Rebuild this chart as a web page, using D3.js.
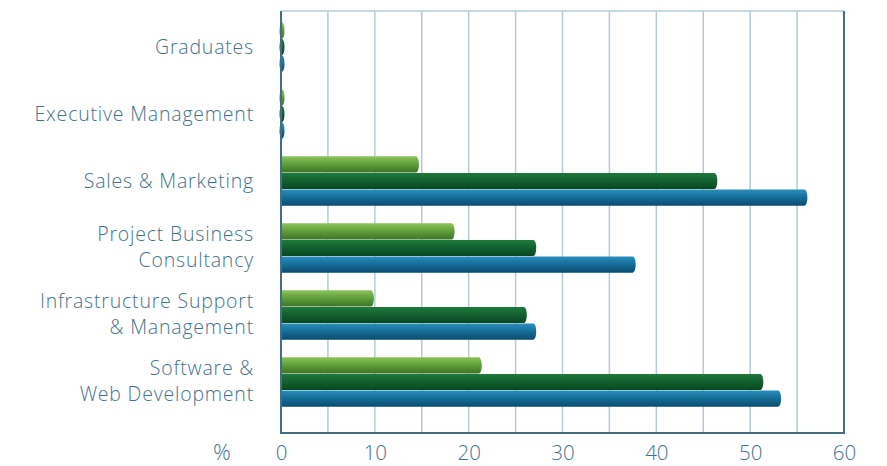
<!DOCTYPE html>
<html>
<head>
<meta charset="utf-8">
<script src="https://cdn.jsdelivr.net/npm/d3@7"></script>
<style>
  body { margin: 0; background: #fff; }
  svg text { font-family: "Open Sans", Lato, sans-serif; fill: #3f7290; }
</style>
</head>
<body>
<svg id="chart" width="887" height="466"></svg>
<script>
const categories = [
    ['Graduates'],
    ['Executive Management'],
    ['Sales & Marketing'],
    ['Project Business', 'Consultancy'],
    ['Infrastructure Support', '& Management'],
    ['Software &', 'Web Development']
];
const seriesNames = ['lightGreen', 'darkGreen', 'blue'];
const lightGreen = [0, 0, 14.7, 18.5, 9.9, 21.4];
const darkGreen = [0, 0, 46.5, 27.2, 26.2, 51.4];
const blue = [0, 0, 56.1, 37.8, 27.2, 53.3];
const xTicks = [0, 10, 20, 30, 40, 50, 60];
const gridTicks = [5, 10, 15, 20, 25, 30, 35, 40, 45, 50, 55];

const seriesValues = [lightGreen, darkGreen, blue];
const colors = {
    lightGreen: ['#8cc459', '#62a03c', '#3c7428'],
    darkGreen: ['#1f7a3c', '#136230', '#0a4620'],
    blue: ['#2b8ebb', '#16709c', '#0b4c6e']
};

const svg = d3.select('#chart');
const plotLeft = 281, plotRight = 844, plotTop = 11, plotBottom = 433;

const x = d3.scaleLinear().domain([0, 60]).range([plotLeft, plotRight]);
const y = d3.scaleBand()
    .domain(categories.map((c, i) => i))
    .range([13.5, 415.5]);
const sub = d3.scaleBand().domain(seriesNames).range([-25, 25]).padding(0.02);

// gradients for the cylinder look
const defs = svg.append('defs');
seriesNames.forEach(name => {
    const grad = defs.append('linearGradient')
        .attr('id', 'g-' + name)
        .attr('x1', 0).attr('y1', 0).attr('x2', 0).attr('y2', 1);
    grad.append('stop').attr('offset', '0%').attr('stop-color', colors[name][0]);
    grad.append('stop').attr('offset', '45%').attr('stop-color', colors[name][1]);
    grad.append('stop').attr('offset', '100%').attr('stop-color', colors[name][2]);
});

// grid
svg.append('g').selectAll('line')
    .data(gridTicks)
    .join('line')
    .attr('x1', d => x(d)).attr('x2', d => x(d))
    .attr('y1', plotTop).attr('y2', plotBottom)
    .attr('stroke', '#b3cbd8')
    .attr('stroke-width', 1.5);

svg.append('line')
    .attr('x1', plotLeft).attr('x2', plotRight).attr('y1', plotTop).attr('y2', plotTop)
    .attr('stroke', '#b3cbd8').attr('stroke-width', 1.5);

// bars
const groups = svg.append('g').selectAll('g')
    .data(categories.map((c, i) => i))
    .join('g')
    .attr('transform', i => `translate(0,${y(i) + y.bandwidth() / 2})`);

groups.selectAll('path')
    .data(i => seriesNames.map((s, k) => ({ series: s, value: seriesValues[k][i] })))
    .join('path')
    .attr('fill', d => `url(#g-${d.series})`)
    .attr('d', d => {
        const y0 = sub(d.series), h = sub.bandwidth();
        const x0 = x(0), x1 = x(d.value);
        const r = 3;
        if (d.value === 0) {
            return `M${x0 - 1.5},${y0 + h / 2} a2.5,${h / 2} 0 1,0 5,0 a2.5,${h / 2} 0 1,0 -5,0 Z`;
        }
        return `M${x0},${y0} L${x1 - r},${y0} A${r},${h / 2} 0 0,1 ${x1 - r},${y0 + h} L${x0},${y0 + h} Z`;
    });

// frame
svg.append('path')
    .attr('d', `M${plotLeft},${plotTop} V${plotBottom} H${plotRight} V${plotTop}`)
    .attr('fill', 'none')
    .attr('stroke', '#426f86')
    .attr('stroke-width', 2);

// x axis labels
const xAxis = svg.append('g')
    .attr('transform', `translate(0,${plotBottom})`)
    .call(d3.axisBottom(x).tickValues(xTicks).tickSize(0).tickPadding(12));
xAxis.select('.domain').remove();
xAxis.selectAll('text')
    .attr('font-size', 20.5)
    .attr('font-family', '"Open Sans", Lato, sans-serif')
    .attr('fill', '#457a96')
    .style('font-weight', 300);

svg.append('text')
    .attr('x', 222).attr('y', 460)
    .attr('text-anchor', 'middle')
    .attr('font-size', 22)
    .style('font-weight', 300)
    .text('%');

// category labels, one text per line
const labelLines = [];
categories.forEach((lines, i) => {
    lines.forEach((line, k) => labelLines.push({ i, k, n: lines.length, line }));
});

svg.append('g').selectAll('text')
    .data(labelLines)
    .join('text')
    .attr('text-anchor', 'end')
    .attr('font-size', 19.5)
    .attr('letter-spacing', 0.8)
    .style('font-weight', 300)
    .attr('x', 254)
    .attr('y', d => {
        const c = y(d.i) + y.bandwidth() / 2;
        if (d.n === 1) return c + 6.8;
        return d.k === 0 ? c - 7.5 : c + 19;
    })
    .text(d => d.line);
</script>
</body>
</html>
